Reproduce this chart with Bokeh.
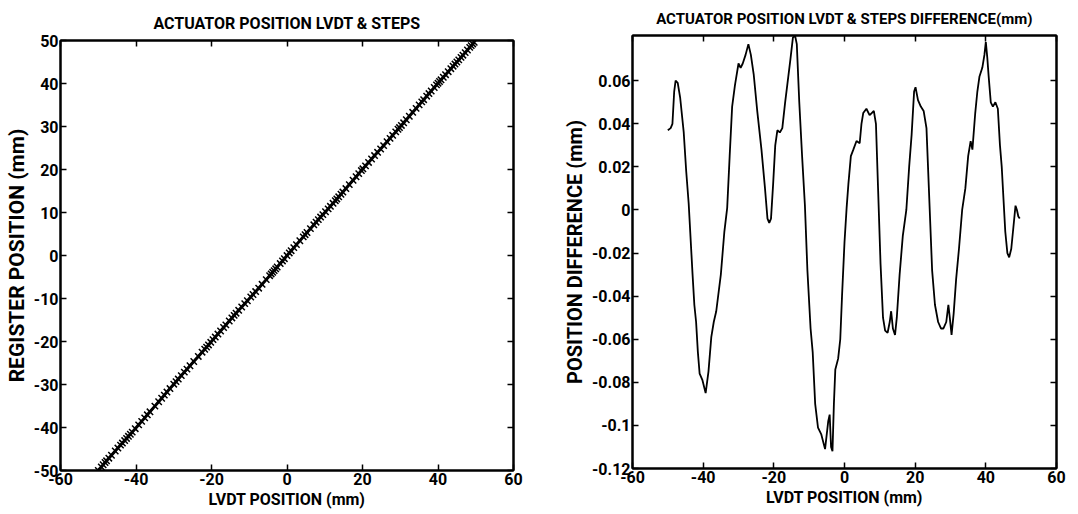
from bokeh.plotting import figure
from bokeh.layouts import row, column
from bokeh.models import LinearAxis, FixedTicker, Range1d, ColumnDataSource
from bokeh.embed import file_html
from bokeh.resources import INLINE

# ---- data ----
lvdt = [-50.0, -49.2, -48.7, -48.2, -47.8, -47.2, -46.5, -45.5, -44.8, -44.1,
        -43.6, -43.0, -42.5, -42.0, -41.5, -41.0, -40.2, -39.3, -38.5, -37.7,
        -37.0, -36.3, -35.0, -34.0, -33.2, -32.5, -31.8, -31.0, -30.0, -29.4,
        -28.8, -28.0, -27.2, -26.5, -25.7, -24.7, -23.5, -22.5, -21.8, -21.3,
        -20.8, -20.2, -19.6, -19.0, -18.3, -17.6, -16.8, -16.2, -15.3, -14.6,
        -14.0, -13.5, -12.8, -12.0, -11.2, -10.5, -9.6, -9.0, -8.3, -7.5,
        -6.6, -5.5, -4.6, -4.2, -3.8, -3.4, -3.0, -2.6, -1.8, -1.2,
        -0.7, 0.0, 0.6, 1.1, 1.8, 2.5, 3.4, 4.3, 4.8, 5.3,
        6.2, 7.1, 7.7, 8.3, 8.9, 9.5, 10.2, 10.9, 11.5, 12.2,
        12.8, 13.2, 13.7, 14.3, 14.8, 15.6, 16.5, 17.5, 18.3, 19.0,
        19.7, 20.1, 20.8, 21.6, 22.4, 23.2, 24.0, 24.8, 25.6, 26.5,
        27.3, 28.0, 28.8, 29.4, 29.8, 30.3, 30.9, 31.6, 32.4, 33.3,
        34.2, 35.0, 35.7, 36.2, 37.0, 37.6, 38.2, 39.0, 39.6, 40.0,
        40.4, 40.8, 41.4, 42.0, 42.7, 43.4, 44.0, 44.5, 45.0, 45.5,
        46.1, 46.6, 47.2, 47.8, 48.4, 48.8, 49.2, 49.6]
diff = [0.037, 0.038, 0.040, 0.055, 0.060, 0.059, 0.052, 0.036, 0.018, 0.003,
        -0.012, -0.030, -0.044, -0.052, -0.066, -0.076, -0.079, -0.085, -0.075, -0.059,
        -0.052, -0.047, -0.030, -0.010, 0.001, 0.025, 0.048, 0.058, 0.068, 0.066,
        0.068, 0.072, 0.077, 0.072, 0.063, 0.046, 0.028, 0.010, -0.004, -0.006,
        -0.004, 0.012, 0.030, 0.037, 0.036, 0.038, 0.050, 0.058, 0.070, 0.080,
        0.081, 0.077, 0.050, 0.025, 0.002, -0.028, -0.055, -0.066, -0.090, -0.101,
        -0.104, -0.111, -0.098, -0.095, -0.110, -0.112, -0.090, -0.074, -0.069, -0.060,
        -0.040, -0.015, 0.001, 0.012, 0.025, 0.028, 0.032, 0.031, 0.040, 0.045,
        0.047, 0.044, 0.045, 0.046, 0.040, 0.010, -0.025, -0.050, -0.056, -0.057,
        -0.052, -0.047, -0.055, -0.058, -0.050, -0.030, -0.012, 0.000, 0.020, 0.035,
        0.055, 0.057, 0.051, 0.048, 0.046, 0.038, 0.005, -0.028, -0.044, -0.052,
        -0.055, -0.055, -0.052, -0.044, -0.050, -0.058, -0.048, -0.032, -0.018, 0.000,
        0.010, 0.025, 0.032, 0.028, 0.045, 0.055, 0.062, 0.066, 0.072, 0.078,
        0.071, 0.062, 0.050, 0.048, 0.050, 0.047, 0.030, 0.020, 0.005, -0.010,
        -0.020, -0.022, -0.018, -0.008, 0.002, 0.000, -0.003, -0.004]
register = [l + d for l, d in zip(lvdt, diff)]

x_ticks = [-60, -40, -20, 0, 20, 40, 60]
left_y_ticks = [-50, -40, -30, -20, -10, 0, 10, 20, 30, 40, 50]
right_y_ticks = [-0.12, -0.1, -0.08, -0.06, -0.04, -0.02, 0, 0.02, 0.04, 0.06]
right_y_labels = ["-0.12", "-0.1", "-0.08", "-0.06", "-0.04", "-0.02", "0", "0.02", "0.04", "0.06"]

FONT = "Roboto"


def style_axis(ax, ticks, overrides, labels=True, label_size="16px"):
    ax.ticker = FixedTicker(ticks=ticks)
    ax.major_label_overrides = overrides if labels else {t: "" for t in ticks}
    ax.major_tick_in = 6
    ax.major_tick_out = 0
    ax.minor_tick_line_color = None
    ax.axis_line_color = "black"
    ax.axis_line_width = 2
    ax.major_tick_line_color = "black"
    ax.major_tick_line_width = 1.5
    ax.major_label_text_font = FONT
    ax.major_label_text_font_style = "bold"
    ax.major_label_text_font_size = "16px" if labels else "1px"
    ax.major_label_text_color = "black"
    ax.axis_label_text_font = FONT
    ax.axis_label_text_font_style = "bold"
    ax.axis_label_text_font_size = label_size
    ax.axis_label_text_color = "black"
    ax.major_label_standoff = 2 if labels else 0
    ax.axis_label_standoff = 2


def make_fig(title, title_size, standoff, xr, yr, w, h, bl, br, bt, bb):
    p = figure(output_backend="svg", toolbar_location=None,
               width=w, height=h,
               x_range=Range1d(*xr), y_range=Range1d(*yr),
               min_border_left=bl, min_border_right=br,
               min_border_top=bt, min_border_bottom=bb,
               title=title)
    p.title.text_font = FONT
    p.title.text_font_style = "bold"
    p.title.text_font_size = title_size
    p.title.align = "center"
    p.title.text_color = "black"
    p.title.standoff = standoff
    p.xgrid.grid_line_color = None
    p.ygrid.grid_line_color = None
    p.outline_line_color = "black"
    p.outline_line_width = 2
    p.background_fill_color = "white"
    p.border_fill_color = "white"
    return p


x_over = {t: str(t) for t in x_ticks}

# ---- left figure ----
p1 = make_fig("ACTUATOR POSITION LVDT & STEPS", "16px", 16, (-60, 60), (-50, 50),
              533, 512, 60, 20, 40, 42)
src1 = ColumnDataSource(data=dict(x=lvdt, y=register))
p1.line("x", "y", source=src1, line_color="black", line_width=3)
p1.scatter("x", "y", source=src1, marker="x", size=9, line_color="black", line_width=1.5)
style_axis(p1.xaxis[0], x_ticks, x_over)
style_axis(p1.yaxis[0], left_y_ticks, {t: str(t) for t in left_y_ticks}, label_size="21px")
p1.xaxis[0].axis_label = "LVDT POSITION (mm)"
p1.yaxis[0].axis_label = "REGISTER POSITION (mm)"
ax_top = LinearAxis()
ax_right = LinearAxis()
style_axis(ax_top, x_ticks, None, labels=False)
style_axis(ax_right, left_y_ticks, None, labels=False)
p1.add_layout(ax_top, "above")
p1.add_layout(ax_right, "right")

# ---- right figure ----
p2 = make_fig("ACTUATOR POSITION LVDT & STEPS DIFFERENCE(mm)", "15px", 15, (-60, 60), (-0.12, 0.081),
              533, 512, 99, 10, 35, 44)
src2 = ColumnDataSource(data=dict(x=lvdt, y=diff))
p2.line("x", "y", source=src2, line_color="black", line_width=1.8)
style_axis(p2.xaxis[0], x_ticks, x_over)
style_axis(p2.yaxis[0], right_y_ticks, dict(zip(right_y_ticks, right_y_labels)), label_size="20px")
p2.xaxis[0].axis_label = "LVDT POSITION (mm)"
p2.yaxis[0].axis_label = "POSITION DIFFERENCE (mm)"
ax_top2 = LinearAxis()
ax_right2 = LinearAxis()
style_axis(ax_top2, x_ticks, None, labels=False)
style_axis(ax_right2, right_y_ticks, None, labels=False)
p2.add_layout(ax_top2, "above")
p2.add_layout(ax_right2, "right")

layout = row(p1, column(p2))
open("out.html", "w").write(file_html(layout, INLINE))
